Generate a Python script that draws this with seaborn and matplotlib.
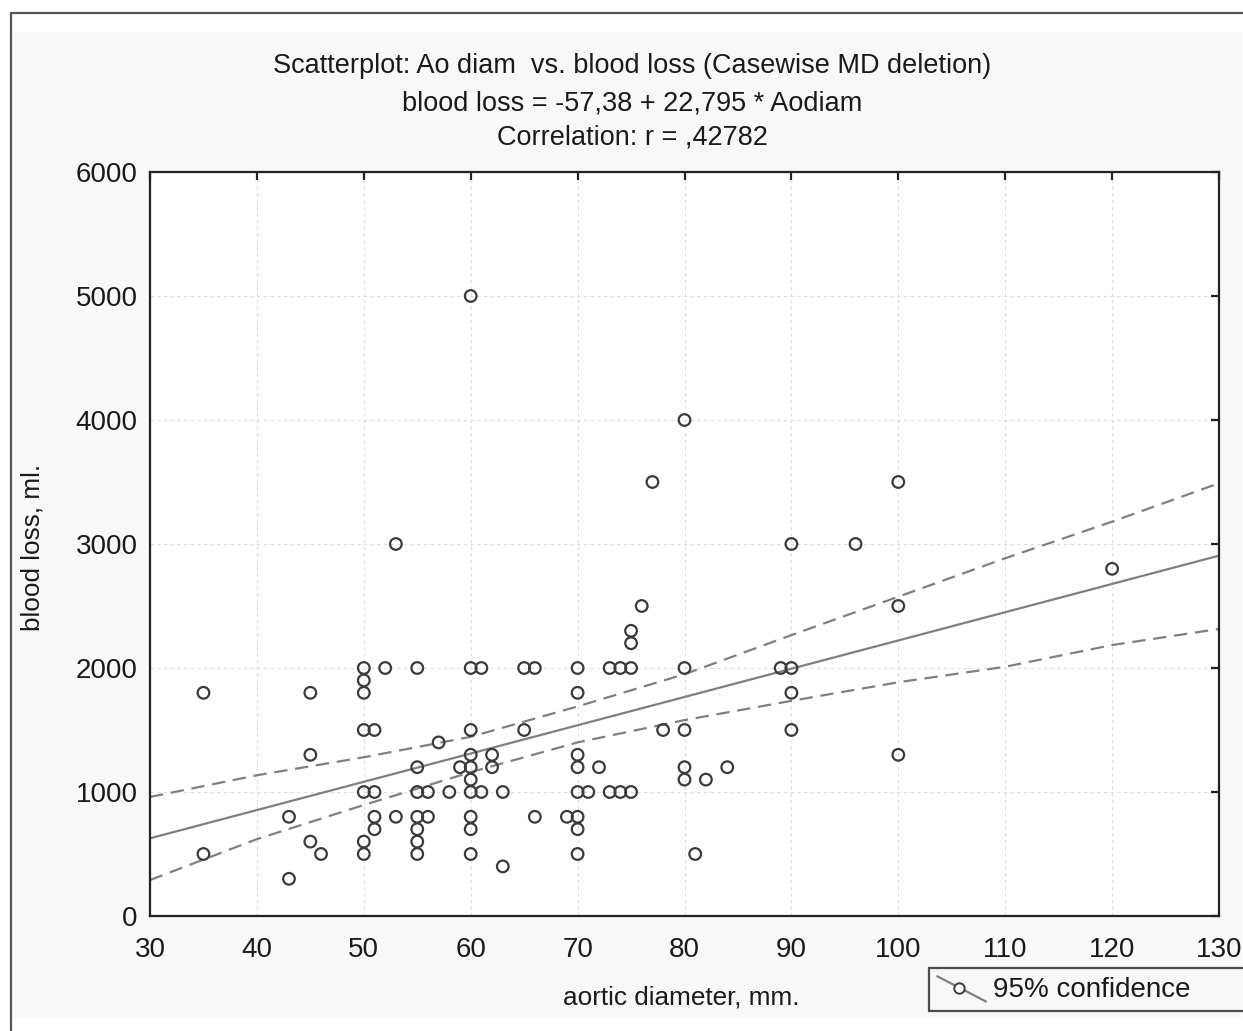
import numpy as np
import pandas as pd
import matplotlib
matplotlib.use("Agg")
import matplotlib.pyplot as plt
import seaborn as sns
from matplotlib.lines import Line2D
from matplotlib.patches import Rectangle
from matplotlib.legend_handler import HandlerLine2D

# ---- data: aortic diameter (mm) and blood loss (ml), one entry per case ----
aortic_diam = (
    [35] * 2 + [43] * 2 + [45] * 3 + [46] + [50] * 7 + [51] * 4 + [52] + [53] * 2
    + [55] * 7 + [56] * 2 + [57] + [58] + [59] + [60] * 10 + [61] * 2 + [62] * 2
    + [63] * 2 + [65] * 2 + [66] * 2 + [69] + [70] * 8 + [71] + [72] + [73] * 2
    + [74] * 2 + [75] * 4 + [76] + [77] + [78] + [80] * 5 + [81] + [82] + [84]
    + [89] + [90] * 4 + [96] + [100] * 3 + [120]
)
blood_loss = (
    [1800, 500] + [800, 300] + [1800, 1300, 600] + [500]
    + [2000, 1900, 1800, 1500, 1000, 600, 500] + [1500, 1000, 800, 700] + [2000]
    + [3000, 800] + [2000, 1200, 1000, 800, 700, 600, 500] + [1000, 800] + [1400]
    + [1000] + [1200] + [5000, 2000, 1500, 1300, 1200, 1100, 1000, 800, 700, 500]
    + [2000, 1000] + [1300, 1200] + [1000, 400] + [2000, 1500] + [2000, 800] + [800]
    + [2000, 1800, 1300, 1200, 1000, 800, 700, 500] + [1000] + [1200] + [2000, 1000]
    + [2000, 1000] + [2300, 2200, 2000, 1000] + [2500] + [3500] + [1500]
    + [4000, 2000, 1500, 1200, 1100] + [500] + [1100] + [1200] + [2000]
    + [3000, 2000, 1800, 1500] + [3000] + [3500, 2500, 1300] + [2800]
)

# fitted model reported for these cases
intercept = -57.38
slope = 22.795
r_value = 0.42782

# 95% confidence limits of the fitted mean
band_x = [30, 40, 50, 60, 70, 80, 90, 100, 110, 120, 130]
band_hi = [960, 1135, 1280, 1445, 1690, 1950, 2265, 2575, 2885, 3180, 3490]
band_lo = [290, 620, 895, 1160, 1400, 1580, 1735, 1885, 2010, 2185, 2315]

x_ticks = [30, 40, 50, 60, 70, 80, 90, 100, 110, 120, 130]
y_ticks = [0, 1000, 2000, 3000, 4000, 5000, 6000]

df = pd.DataFrame({"diam": aortic_diam, "loss": blood_loss})
band = pd.DataFrame({"x": band_x, "hi": band_hi, "lo": band_lo})
fit = pd.DataFrame({"x": [x_ticks[0], x_ticks[-1]]})
fit["y"] = intercept + slope * fit["x"]


def dec(v, digits):
    """Format a number with a decimal comma, dropping a leading zero."""
    s = f"{v:.{digits}f}".replace(".", ",")
    if s.startswith("0,"):
        s = s[1:]
    return s


# ---- figure ----
W, H = 1243, 1031
sns.set_theme(style="white")
plt.rcParams["font.family"] = ["Liberation Sans", "DejaVu Sans"]

fig = plt.figure(figsize=(W / 100, H / 100), dpi=100)
fig.patch.set_facecolor("white")

fig.add_artist(Rectangle((12 / W, 1 - 1018 / H), (1242 - 12) / W, (1018 - 32) / H,
                         transform=fig.transFigure, facecolor="#f8f8f8",
                         edgecolor="none", zorder=-10))
fig.add_artist(Line2D([11 / W, 11 / W], [0, 1 - 13 / H], color="#555555", lw=1.6))
fig.add_artist(Line2D([11 / W, 1], [1 - 13 / H, 1 - 13 / H], color="#555555", lw=1.6))

ax = fig.add_axes([150 / W, 1 - 916 / H, (1219 - 150) / W, (916 - 172) / H])
ax.set_facecolor("white")

sns.lineplot(data=fit, x="x", y="y", ax=ax, color="#7f7f7f", lw=1.6, zorder=2)
sns.lineplot(data=band, x="x", y="hi", ax=ax, color="#7f7f7f", lw=1.6, zorder=2)
ax.lines[-1].set_dashes([6, 3.5])
sns.lineplot(data=band, x="x", y="lo", ax=ax, color="#7f7f7f", lw=1.6, zorder=2)
ax.lines[-1].set_dashes([6, 3.5])
sns.scatterplot(data=df, x="diam", y="loss", ax=ax, marker="o", s=70,
                facecolor="none", edgecolor="#3a3a3a", linewidth=1.6, zorder=3)

ax.set_xlim(x_ticks[0], x_ticks[-1])
ax.set_ylim(y_ticks[0], y_ticks[-1])
ax.set_xticks(x_ticks)
ax.set_yticks(y_ticks)
ax.grid(True, color="#dcdcdc", lw=0.8, ls=(0, (3, 3)))
ax.set_axisbelow(True)
for sp in ax.spines.values():
    sp.set_visible(True)
    sp.set_color("#222222")
    sp.set_linewidth(1.6)
ax.tick_params(direction="in", length=6, width=1.6, color="#222222",
               top=True, right=True, labelsize=20, labelcolor="#1a1a1a")
ax.tick_params(axis="x", pad=15)
ax.tick_params(axis="y", pad=9)

ax.set_xlabel("aortic diameter, mm.", fontsize=18.8, color="#1a1a1a")
ax.set_ylabel("blood loss, ml.", fontsize=18.8, color="#1a1a1a")
ax.xaxis.set_label_coords((681 - 150) / 1069, (916 - 998) / 744)
ax.yaxis.set_label_coords((33 - 150) / 1069, (916 - 547) / 744)
ax.xaxis.label.set_va("center")
ax.yaxis.label.set_va("center")

# title block
cx = 632 / W
fig.text(cx, 1 - 66 / H, "Scatterplot: Ao diam  vs. blood loss (Casewise MD deletion)",
         ha="center", va="center", fontsize=19.5, color="#1a1a1a")
fig.text(cx, 1 - 104 / H,
         f"blood loss = {dec(intercept, 2)} + {dec(slope, 3)} * Aodiam",
         ha="center", va="center", fontsize=19.5, color="#1a1a1a")
fig.text(cx, 1 - 138 / H, f"Correlation: r = {dec(r_value, 5)}",
         ha="center", va="center", fontsize=19.5, color="#1a1a1a")


class DiagonalHandler(HandlerLine2D):
    """Legend key drawn as a falling line with an open circle on it."""

    def create_artists(self, legend, orig_handle, xdescent, ydescent,
                       width, height, fontsize, trans):
        x0, x1 = -xdescent, -xdescent + width
        y0, y1 = -ydescent + height * 1.05, -ydescent - height * 0.25
        line = Line2D([x0, x1], [y0, y1], color="#7f7f7f", lw=1.6)
        f = 0.45
        mark = Line2D([x0 + f * (x1 - x0)], [y0 + f * (y1 - y0)], marker="o",
                      ms=7.5, mfc="white", mec="#3a3a3a", mew=1.4, ls="none")
        line.set_transform(trans)
        mark.set_transform(trans)
        return [line, mark]


key = Line2D([], [], color="#7f7f7f")
leg = fig.legend([key], ["95% confidence"], handler_map={Line2D: DiagonalHandler()},
                 loc="lower left",
                 bbox_to_anchor=(929 / W, 1 - 1011 / H, 0.3, (1011 - 967) / H),
                 mode="expand", borderaxespad=0, fontsize=20, frameon=True,
                 fancybox=False, handlelength=1.75, handletextpad=0.25,
                 borderpad=0.3)
leg.get_frame().set_edgecolor("#222222")
leg.get_frame().set_linewidth(1.6)
leg.get_frame().set_facecolor("#f8f8f8")
for t in leg.get_texts():
    t.set_color("#1a1a1a")

fig.savefig("out.png", dpi=100)
